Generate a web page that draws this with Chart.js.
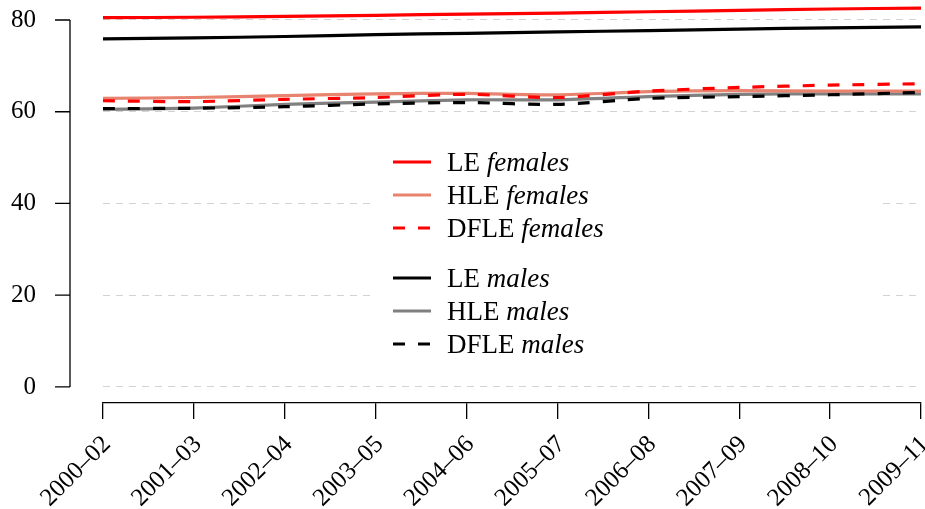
<!DOCTYPE html>
<html><head><meta charset="utf-8">
<script src="https://cdn.jsdelivr.net/npm/chart.js@4/dist/chart.umd.min.js"></script>
<style>html,body{margin:0;padding:0;background:#fff}</style>
</head><body>
<canvas id="c" width="925" height="509"></canvas>
<script>
const periods = ['2000–02','2001–03','2002–04','2003–05','2004–06','2005–07','2006–08','2007–09','2008–10','2009–11'];
const leFemales   = [80.5, 80.6, 80.8, 81.0, 81.3, 81.5, 81.8, 82.1, 82.4, 82.6];
const hleFemales  = [62.9, 63.1, 63.5, 63.9, 64.0, 63.7, 64.4, 64.6, 64.5, 64.5];
const dfleFemales = [62.4, 62.2, 62.7, 63.1, 63.8, 63.1, 64.5, 65.3, 65.8, 66.1];
const leMales     = [75.9, 76.1, 76.4, 76.8, 77.1, 77.4, 77.7, 78.0, 78.3, 78.5];
const hleMales    = [60.5, 60.8, 61.6, 62.1, 62.6, 62.6, 63.3, 63.8, 63.9, 63.9];
const dfleMales   = [60.7, 60.75, 61.1, 61.7, 62.0, 61.6, 62.9, 63.3, 63.7, 64.2];
const yTicks = [0, 20, 40, 60, 80];

const FONT = '"Liberation Serif", "DejaVu Serif", serif';
const DASH = [12, 13];

function ds(label, sex, data, color, dashed, order) {
  return { label, sex, data, borderColor: color, backgroundColor: color, borderWidth: 3.2,
    borderDash: dashed ? DASH : [], pointRadius: 0, tension: 0.25, fill: false, order };
}

const datasets = [
  ds('LE', 'females', leFemales, '#ff0000', false, 2),
  ds('HLE', 'females', hleFemales, '#e8836f', false, 2),
  ds('DFLE', 'females', dfleFemales, '#ff0000', true, 0),
  ds('LE', 'males', leMales, '#000000', false, 2),
  ds('HLE', 'males', hleMales, '#808080', false, 2),
  ds('DFLE', 'males', dfleMales, '#000000', true, 1)
];

const customPlugin = {
  id: 'customPlugin',
  beforeDatasetsDraw(chart) {
    const ctx = chart.ctx;
    ctx.save();
    ctx.fillStyle = '#ffffff';
    ctx.fillRect(374, 140, 509, 225);
    ctx.restore();
  },
  afterDraw(chart) {
    const ctx = chart.ctx;
    const y = chart.scales.y;
    ctx.save();
    ctx.strokeStyle = '#000';
    ctx.lineWidth = 1.3;
    ctx.beginPath();
    ctx.moveTo(70, y.getPixelForValue(yTicks[yTicks.length - 1]));
    ctx.lineTo(70, y.getPixelForValue(yTicks[0]));
    yTicks.forEach(v => {
      const py = y.getPixelForValue(v);
      ctx.moveTo(55, py); ctx.lineTo(70, py);
    });
    ctx.stroke();

    // legend
    const rowsY = [162, 195, 228, 278, 311, 344];
    chart.data.datasets.forEach((d, i) => {
      const py = rowsY[i];
      ctx.strokeStyle = d.borderColor;
      ctx.lineWidth = d.borderWidth;
      ctx.setLineDash(d.borderDash || []);
      ctx.beginPath();
      ctx.moveTo(393, py); ctx.lineTo(431, py);
      ctx.stroke();
      ctx.setLineDash([]);
      ctx.fillStyle = '#000';
      ctx.textBaseline = 'middle';
      ctx.textAlign = 'left';
      ctx.font = '27px ' + FONT;
      const pre = d.label + ' ';
      ctx.fillText(pre, 447, py + 2);
      const w = ctx.measureText(pre).width;
      ctx.font = 'italic 27px ' + FONT;
      ctx.fillText(d.sex, 447 + w, py + 2);
    });
    ctx.restore();
  }
};

new Chart(document.getElementById('c'), {
  type: 'line',
  data: { labels: periods, datasets },
  options: {
    responsive: false,
    animation: false,
    layout: { padding: { left: 0, right: 4, top: 0, bottom: 0 } },
    plugins: { legend: { display: false }, tooltip: { enabled: false } },
    scales: {
      x: {
        type: 'category',
        offset: false,
        grid: { drawOnChartArea: false, drawTicks: true, tickLength: 16, color: '#000', lineWidth: 1.3 },
        border: { display: true, color: '#000', width: 1.3 },
        ticks: { autoSkip: false, maxRotation: 45, minRotation: 45, padding: 11, labelOffset: 4, color: '#000',
                 font: { family: FONT, size: 25 } },
        afterFit(scale) { scale.height = 106; scale.paddingLeft = 0; scale.paddingRight = 0; }
      },
      y: {
        type: 'linear',
        min: -3.5,
        max: 84.36,
        afterBuildTicks(scale) { scale.ticks = yTicks.map(v => ({ value: v })); },
        grid: { drawTicks: false, color: '#d3d3d3', lineWidth: 1 },
        border: { display: false, dash: [7, 6] },
        ticks: { padding: 67, color: '#000', font: { family: FONT, size: 25 } },
        afterFit(scale) { scale.width = 103; scale.paddingTop = 0; scale.paddingBottom = 0; }
      }
    }
  },
  plugins: [customPlugin]
});
</script>
</body></html>
